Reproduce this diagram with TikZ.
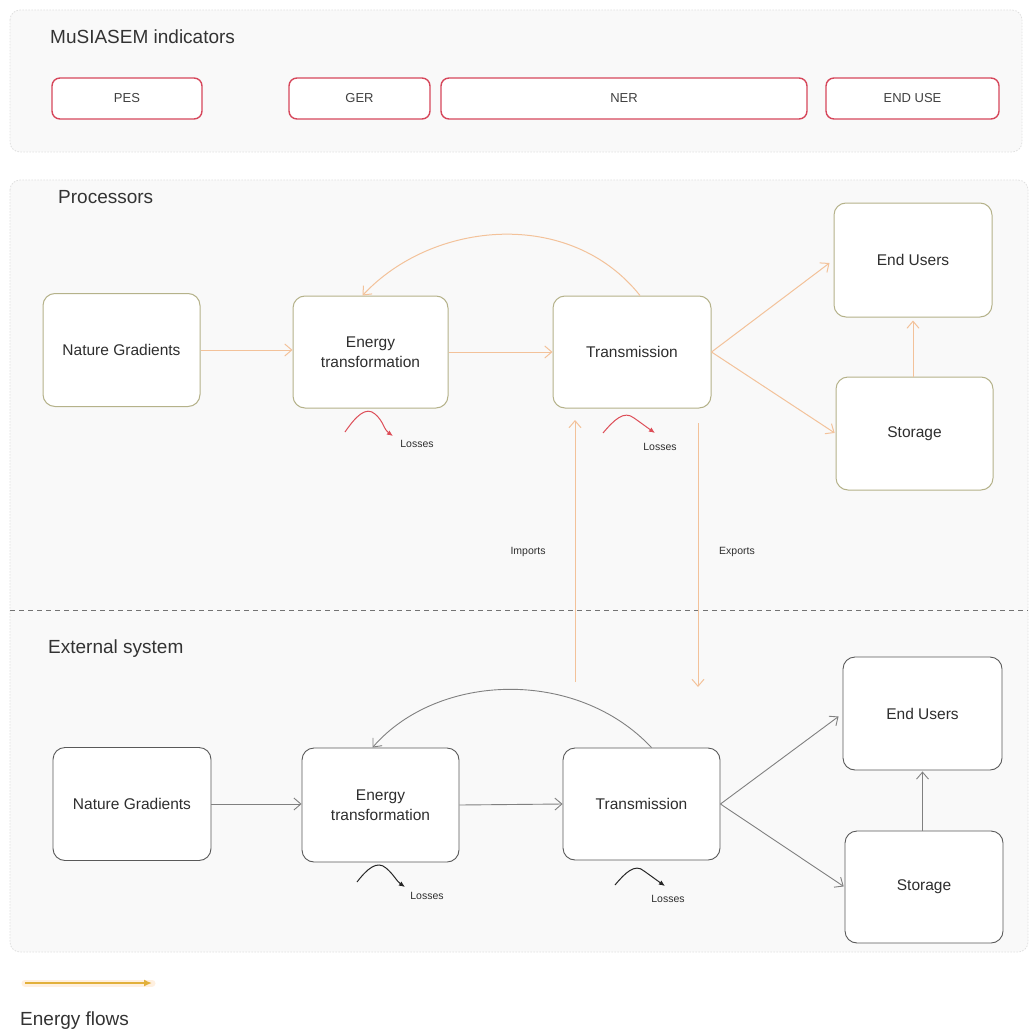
\documentclass[tikz,border=0pt]{standalone}
\usepackage{fontspec}
\setmainfont{Liberation Sans}
\usetikzlibrary{arrows.meta}
\definecolor{peach}{HTML}{F3C29A}
\definecolor{olivebox}{HTML}{B5B28A}
\definecolor{lossred}{HTML}{DD4E58}
\definecolor{indred}{HTML}{D6475B}
\definecolor{goldflow}{HTML}{E2B03A}
\definecolor{panelfill}{HTML}{F9F9F9}
\definecolor{txt}{HTML}{2E2E2E}
\tikzset{
  panel/.style={draw=black!12, fill=panelfill, rounded corners=10pt, dash pattern=on 1.5pt off 1.5pt, line width=0.8pt},
  title/.style={anchor=west, text=black!80, font=\fontsize{19}{22}\selectfont, inner sep=0pt},
  ind/.style={draw=indred, line width=1.4pt, rounded corners=8pt, fill=white, minimum height=41pt, text=black!75, font=\fontsize{13}{15}\selectfont},
  procbox/.style={draw=olivebox, line width=1pt, rounded corners=12pt, fill=white, text=txt, align=center, font=\fontsize{15.5}{20}\selectfont},
  extbox/.style={draw=black!65, line width=0.9pt, rounded corners=12pt, fill=white, text=txt, align=center, font=\fontsize{15.5}{20}\selectfont},
  flow/.style={draw=peach, line width=1pt, -{Straight Barb[length=7pt,width=12pt]}},
  eflow/.style={draw=black!50, line width=0.9pt, -{Straight Barb[length=7pt,width=12pt]}},
  loss/.style={draw=lossred, line width=1pt, -{Latex[length=6pt,width=5pt]}},
  eloss/.style={draw=black!85, line width=1pt, -{Latex[length=6pt,width=5pt]}},
  small/.style={text=txt, font=\fontsize{10.5}{12}\selectfont, inner sep=1pt},
}
\begin{document}
\begin{tikzpicture}[x=1pt,y=-1pt]
\useasboundingbox (0,0) rectangle (1030,1035);
\fill[white] (0,0) rectangle (1030,1035);

% panels
\draw[panel] (10,10) rectangle (1022,152);
\draw[panel] (10,180) rectangle (1028,952);
\draw[black!55, line width=0.9pt, dash pattern=on 5pt off 4pt] (10,610) -- (1028,610);

% titles
\node[title] (tInd) at (50,37) {MuSIASEM indicators};
\node[title] (tProc) at (58,197) {Processors};
\node[title] (tExt) at (48,649) {External system};

% indicators
\node[ind, minimum width=150pt] (pes) at (127,98.5) {PES};
\node[ind, minimum width=141pt] (ger) at (359.5,98.5) {GER};
\node[ind, minimum width=366pt] (ner) at (624,98.5) {NER};
\node[ind, minimum width=173pt] (enduse) at (912.5,98.5) {END USE};

% processors
\node[procbox, minimum width=157pt, minimum height=113pt] (pNG) at (121.5,350) {Nature Gradients};
\node[procbox, minimum width=155pt, minimum height=112pt] (pET) at (370.5,352) {Energy\\transformation};
\node[procbox, minimum width=158pt, minimum height=112pt] (pTr) at (632,352) {Transmission};
\node[procbox, minimum width=158pt, minimum height=114pt] (pEU) at (913,260) {End Users};
\node[procbox, minimum width=157pt, minimum height=113pt] (pSt) at (914.5,433.5) {Storage};

\draw[flow] (pNG.east) -- (pNG.east -| pET.west);
\draw[flow] (pET.east) -- (pTr.west);
\draw[flow] ([xshift=8pt]pTr.north) .. controls +(-70,-88) and +(70,-75) .. ([xshift=-8pt]pET.north);
\draw[flow, shorten >=5pt] (pTr.east) -- (pEU.west);
\draw[flow, shorten >=1pt] (pTr.east) -- (pSt.west);
\draw[flow, shorten >=3pt] (pSt.north -| pEU.south) -- (pEU.south);

% losses processors
\draw[loss] (345,432) .. controls (356,416) and (366,406) .. (375,414) to[out=-40,in=145] (393,436);
\node[small] (lossA) at (417,444) {Losses};
\draw[loss] (603,433) .. controls (614,420) and (624,410) .. (634,418) to[out=-35,in=145] (655,433);
\node[small] (lossB) at (660,447) {Losses};

% imports / exports
\coordinate (impS) at (575,682);
\coordinate (impE) at (575,420);
\draw[flow] (impS) -- (impE);
\node[small] (imp) at (528,552) {Imports};
\coordinate (expS) at (698,423);
\coordinate (expE) at (698,687);
\draw[flow] (expS) -- (expE);
\node[small] (exp) at (737,552) {Exports};

% external system
\node[extbox, minimum width=158pt, minimum height=113pt] (eNG) at (132,804) {Nature Gradients};
\node[extbox, minimum width=157pt, minimum height=114pt] (eET) at (380.5,805) {Energy\\transformation};
\node[extbox, minimum width=157pt, minimum height=112pt] (eTr) at (641.5,804) {Transmission};
\node[extbox, minimum width=159pt, minimum height=113pt] (eEU) at (922.5,713.5) {End Users};
\node[extbox, minimum width=158pt, minimum height=112pt] (eSt) at (924,887) {Storage};

\draw[eflow] (eNG.east) -- (eNG.east -| eET.west);
\draw[eflow] (eET.east) -- (eTr.west);
\draw[eflow] ([xshift=10pt]eTr.north) .. controls +(-75,-80) and +(65,-75) .. ([xshift=-8pt]eET.north);
\draw[eflow, shorten >=5pt] (eTr.east) -- (eEU.west);
\draw[eflow, shorten >=1pt] (eTr.east) -- (eSt.west);
\draw[eflow, shorten >=1pt] (eSt.north -| eEU.south) -- (eEU.south);

\draw[eloss] (357,882) .. controls (367,869) and (377,860) .. (386,868) to[out=-40,in=145] (405,887);
\node[small] (lossC) at (427,896) {Losses};
\draw[eloss] (615,885) .. controls (625,873) and (635,863) .. (644,871) to[out=-35,in=145] (665,886);
\node[small] (lossD) at (668,899) {Losses};

% legend
\coordinate (lgA) at (25,983);
\coordinate (lgB) at (152,983);
\draw[orange!12, line width=7pt, line cap=round] (lgA) -- (lgB);
\draw[goldflow, line width=2pt, -{Latex[length=8pt,width=7pt]}] (lgA) -- (lgB);
\node[title] (lgT) at (20,1021) {Energy flows};
\end{tikzpicture}
\end{document}
